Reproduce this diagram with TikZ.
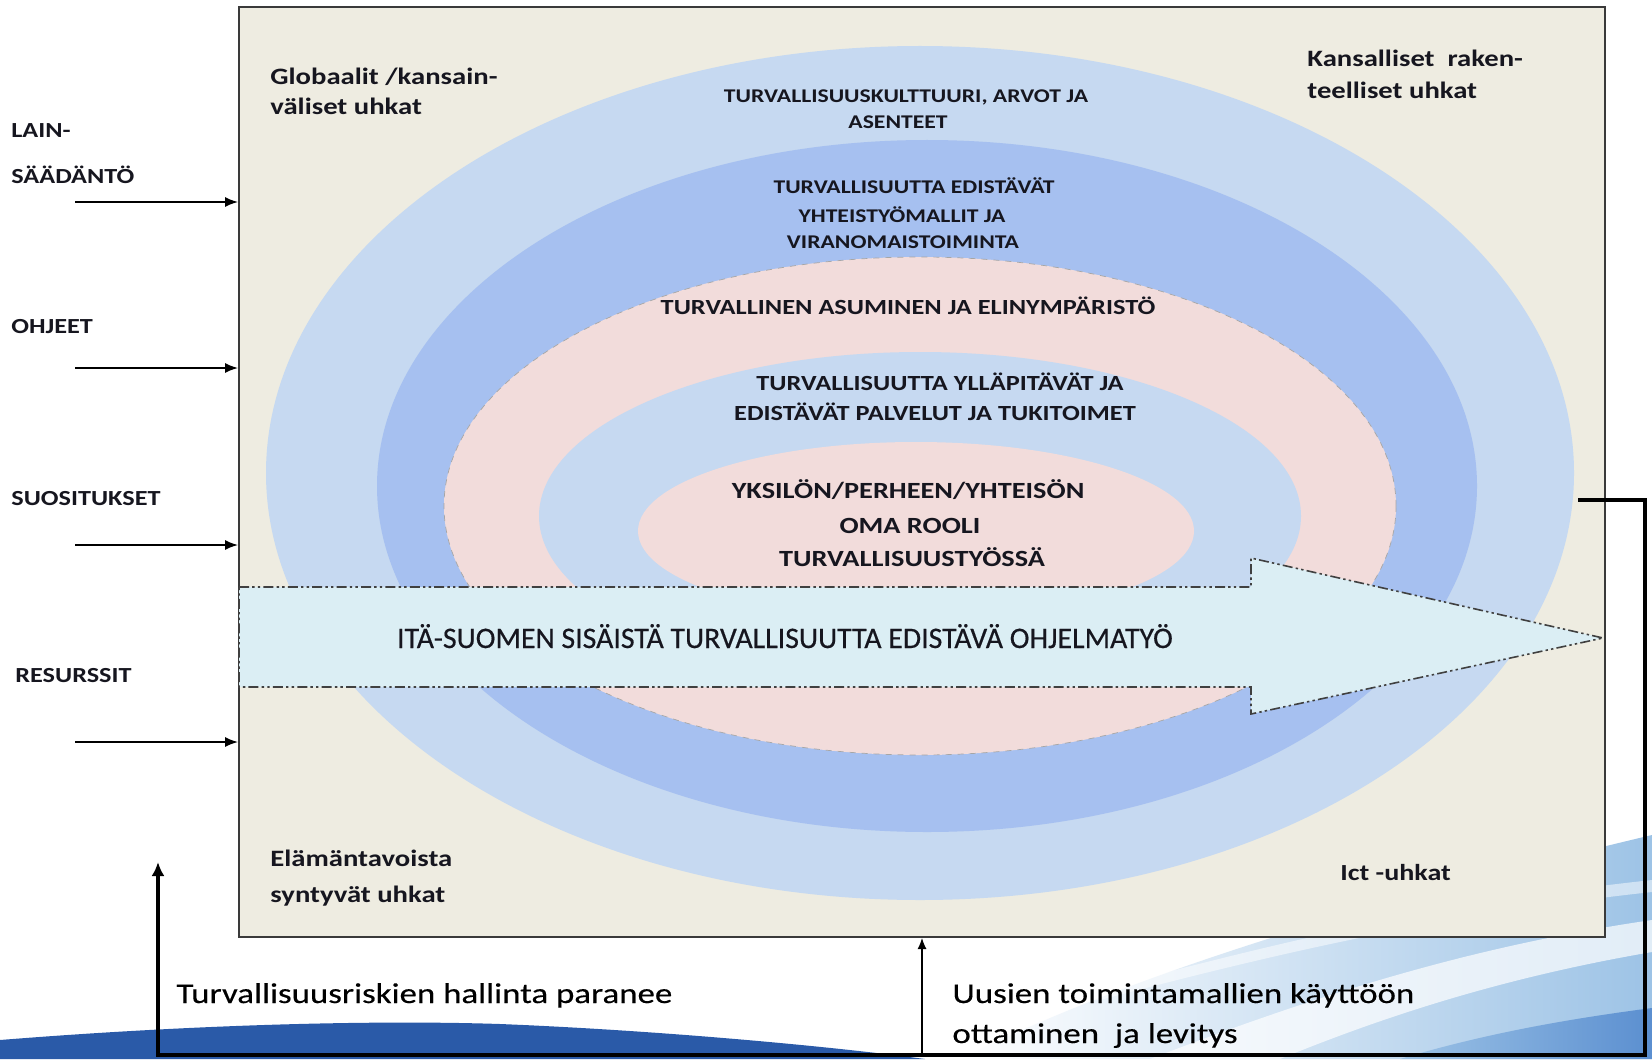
\documentclass[tikz,border=0pt]{standalone}
\usepackage{fontspec}
\setmainfont{Carlito}
\newfontfamily\swfont[FakeStretch=1.22]{Carlito}
\newfontfamily\swreg[FakeStretch=1.22,FakeBold=0.35]{Carlito}
\newfontfamily\arrfont[FakeBold=0.45]{Carlito}
\usetikzlibrary{arrows.meta}
\definecolor{boxfill}{HTML}{EEECE1}
\definecolor{boxline}{HTML}{3A3A3A}
\definecolor{ringA}{HTML}{C6D9F1}
\definecolor{ringB}{HTML}{A6C0F0}
\definecolor{ringC}{HTML}{F2DCDB}
\definecolor{arrfill}{HTML}{DBEEF4}
\definecolor{txt}{HTML}{16161F}
\definecolor{swdark}{HTML}{2A5AA8}
\definecolor{swlight}{HTML}{9DC3E6}
\definecolor{swmid}{HTML}{5B8FD0}
\newcommand\fsz[1]{\fontsize{#1}{#1}\selectfont}
\begin{document}
\begin{tikzpicture}[x=0.5pt,y=-0.5pt,
  lbl/.style={inner sep=0, anchor=base west, text=txt, font=\swfont\bfseries\fsz{10.75}},
  corner/.style={inner sep=0, anchor=base west, text=txt, font=\swfont\bfseries\fsz{11.75}},
  ringtop/.style={inner sep=0, anchor=base, text=txt, font=\swfont\bfseries\fsz{9.7}},
  ringmid/.style={inner sep=0, anchor=base, text=txt, font=\swfont\bfseries\fsz{10.8}},
  ringin/.style={inner sep=0, anchor=base, text=txt, font=\swfont\bfseries\fsz{11.6}},
  bottomtxt/.style={inner sep=0, anchor=base west, text=black, font=\swreg\fsz{14.3}},
  inarrow/.style={-{Latex[length=6.5pt,width=5pt]}, line width=0.75pt, black},
  feedback/.style={line width=2pt, black},
  dashdotline/.style={draw=black!75, line width=0.8pt, dash pattern=on 5pt off 1.6pt on 1.2pt off 1.6pt on 1.2pt off 1.6pt}
]
\fill[white] (0,0) rectangle (1652,1059);
\useasboundingbox (0,0) rectangle (1652,1059);

% background swoosh
\fill[swdark] (0,1040) .. controls (200,1024) and (380,1020) .. (500,1024)
  .. controls (650,1030) and (820,1045) .. (925,1059) -- (0,1059) -- cycle;
\shade[left color=white, right color=swlight] (960,1059) .. controls (1150,965) and (1400,895) .. (1652,835) -- (1652,1059) -- cycle;
\fill[white, opacity=0.7] (1150,1059) .. controls (1330,990) and (1480,945) .. (1652,920)
  -- (1652,952) .. controls (1500,978) and (1380,1018) .. (1280,1059) -- cycle;
\fill[white, opacity=0.5] (1060,1000) .. controls (1250,950) and (1420,905) .. (1652,880)
  -- (1652,892) .. controls (1440,915) and (1270,955) .. (1100,1000) -- cycle;
\shade[left color=swlight, right color=swmid] (1400,1059) .. controls (1480,1035) and (1560,1020) .. (1652,1008) -- (1652,1059) -- cycle;

% main box
\node[draw=boxline, fill=boxfill, line width=1pt, minimum width=683pt, minimum height=465pt, inner sep=0] (box) at (922,472) {};

% rings
\fill[ringA] (920,473) ellipse [x radius=654, y radius=427];
\fill[ringB] (927,486) ellipse [x radius=550, y radius=346];
\fill[ringC] (920,506) ellipse [x radius=476, y radius=249];
\draw[black!35, dashed, line width=0.35pt] (920,506) ellipse [x radius=476, y radius=249];
\fill[ringA] (920,516) ellipse [x radius=381, y radius=164];
\fill[ringC] (916,531) ellipse [x radius=278, y radius=89];

% ring labels
\node[ringtop] (r1a) at (906,103) {TURVALLISUUSKULTTUURI, ARVOT JA};
\node[ringtop] (r1b) at (898,129) {ASENTEET};
\node[ringtop] (r2a) at (914,194) {TURVALLISUUTTA EDISTÄVÄT};
\node[ringtop] (r2b) at (902,222) {YHTEISTYÖMALLIT JA};
\node[ringtop] (r2c) at (903,249) {VIRANOMAISTOIMINTA};
\node[ringmid] (r3) at (908,314) {TURVALLINEN ASUMINEN JA ELINYMPÄRISTÖ};
\node[ringmid] (r4a) at (940,390) {TURVALLISUUTTA YLLÄPITÄVÄT JA};
\node[ringmid] (r4b) at (935,420) {EDISTÄVÄT PALVELUT JA TUKITOIMET};
\node[ringin] (r5a) at (908,498) {YKSILÖN/PERHEEN/YHTEISÖN};
\node[ringin] (r5b) at (910,533) {OMA ROOLI};
\node[ringin] (r5c) at (912,566) {TURVALLISUUSTYÖSSÄ};

% big arrow
\filldraw[fill=arrfill, dashdotline] (239,587) -- (1251,587) -- (1251,558) -- (1603,638)
  -- (1251,714) -- (1251,687) -- (239,687) -- cycle;
\node[inner sep=0, anchor=base, text=txt, font=\arrfont\fsz{14.9}] (prog) at (785,648)
  {ITÄ-SUOMEN SISÄISTÄ TURVALLISUUTTA EDISTÄVÄ OHJELMATYÖ};

% corner labels
\node[corner] (g1) at (270,85) {Globaalit /kansain-};
\node[corner] (g2) at (270,115) {väliset uhkat};
\node[corner] (k1) at (1307,67) {Kansalliset\ \ raken-};
\node[corner] (k2) at (1307,99) {teelliset uhkat};
\node[corner] (e1) at (270,866) {Elämäntavoista};
\node[corner] (e2) at (270,902) {syntyvät uhkat};
\node[corner, font=\swfont\bfseries\fsz{11.5}] (ict) at (1340,880) {Ict -uhkat};

% left inputs
\node[lbl] (l1) at (11,138) {LAIN-};
\node[lbl] (l2) at (11,184) {SÄÄDÄNTÖ};
\node[lbl] (l3) at (11,333) {OHJEET};
\node[lbl] (l4) at (11,505) {SUOSITUKSET};
\node[lbl] (l5) at (15,682) {RESURSSIT};
\coordinate (a1) at (75,202);
\coordinate (a2) at (75,368);
\coordinate (a3) at (75,545);
\coordinate (a4) at (75,742);
\draw[inarrow] (a1) -- (a1 -| box.west);
\draw[inarrow] (a2) -- (a2 -| box.west);
\draw[inarrow] (a3) -- (a3 -| box.west);
\draw[inarrow] (a4) -- (a4 -| box.west);

% feedback loop
\coordinate (t0) at (1578,500);
\coordinate (t1) at (1645,500);
\coordinate (t2) at (1645,1055);
\coordinate (t3) at (158,1055);
\coordinate (t4) at (158,862);
\draw[feedback, -{Latex[length=7pt,width=6.5pt]}] (t0) -- (t1) -- (t2) -- (t3) -- (t4);
\coordinate (b0) at (box.south |- t3);
\draw[-{Latex[length=5.5pt,width=4.5pt]}, line width=0.6pt] (b0) -- (box.south);

% bottom texts
\node[bottomtxt] (bt1) at (176,1003) {Turvallisuusriskien hallinta paranee};
\node[bottomtxt] (bt2) at (952,1003) {Uusien toimintamallien käyttöön};
\node[bottomtxt] (bt3) at (952,1043) {ottaminen\ \ ja levitys};
\end{tikzpicture}
\end{document}
